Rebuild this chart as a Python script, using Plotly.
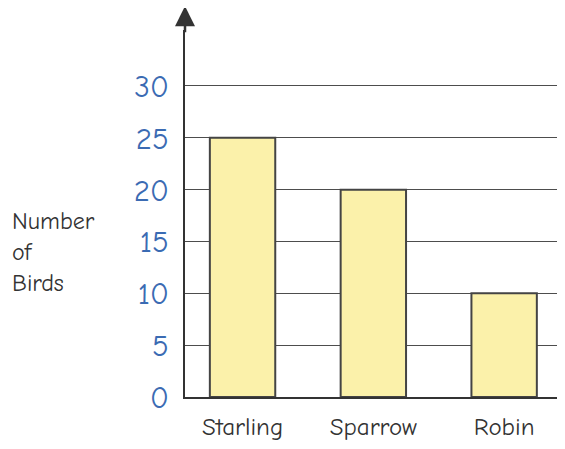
import plotly.graph_objects as go

birds = ["Starling", "Sparrow", "Robin"]
counts = [25, 20, 10]
y_ticks = [0, 5, 10, 15, 20, 25, 30]

fig = go.Figure()
fig.add_trace(go.Bar(
    x=birds, y=counts, width=0.5,
    marker=dict(color="#fbf1aa", line=dict(color="#444444", width=2)),
))

fig.update_layout(
    width=557, height=441,
    margin=dict(l=177, r=2, t=22, b=52),
    paper_bgcolor="white", plot_bgcolor="white",
    showlegend=False,
    font=dict(family="Comic Sans MS, Comic Neue, Lato, sans-serif"),
    xaxis=dict(
        range=[-0.44, 2.45], showgrid=False, showline=True,
        linecolor="#333333", linewidth=2,
        ticks="outside", ticklen=6, tickcolor="rgba(0,0,0,0)",
        tickfont=dict(size=25, color="#333333"),
    ),
    yaxis=dict(
        range=[0, 35.4], tickvals=y_ticks, showline=True,
        linecolor="#333333", linewidth=2,
        showgrid=True, gridcolor="#4d4d4d", gridwidth=1.4,
        zeroline=False,
        ticks="outside", ticklen=8, tickcolor="rgba(0,0,0,0)",
        tickfont=dict(size=31, color="#3b6bb3"),
    ),
    annotations=[
        dict(text="Number<br>of<br>Birds", xref="paper", yref="paper",
             x=-0.462, y=0.395, xanchor="left", yanchor="middle",
             align="left", showarrow=False,
             font=dict(size=24, color="#333333")),
        dict(xref="x domain", yref="y domain", x=0, y=1.065,
             axref="x domain", ayref="y domain", ax=0, ay=0.99,
             showarrow=True, arrowhead=2, arrowsize=1.6, arrowwidth=2.5,
             arrowcolor="#333333", text=""),
    ],
)

fig.write_html("out.html")
